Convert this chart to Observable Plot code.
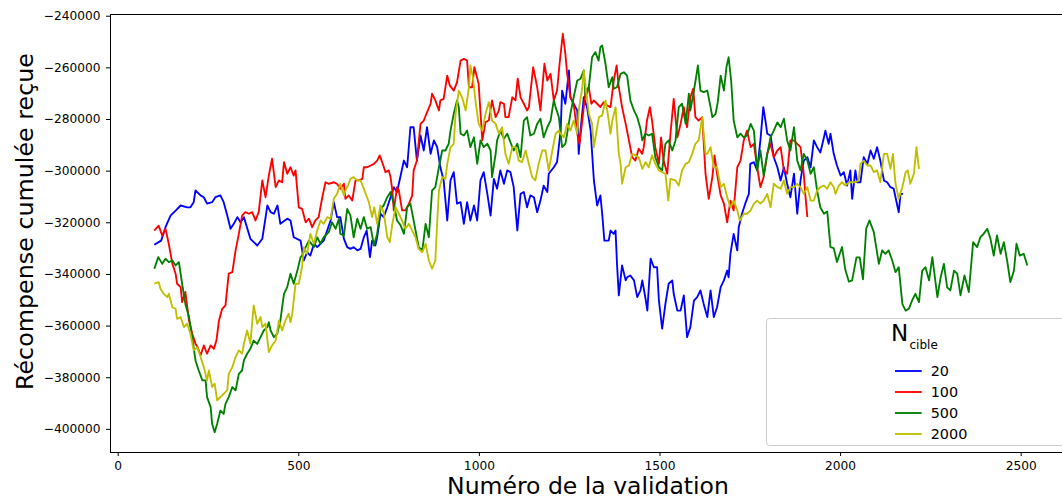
<!DOCTYPE html>
<html><head><meta charset="utf-8">
<script src="https://cdn.jsdelivr.net/npm/d3@7"></script>
<script src="https://cdn.jsdelivr.net/npm/@observablehq/plot@0.6"></script>
<style>
html,body{margin:0;padding:0;overflow:hidden;background:#fff;width:1062px;height:500px}
#chart{position:relative;width:1068px;height:500px}
#chart svg{max-width:none !important;width:1068px !important;height:500px !important}
</style>
</head><body><div id="chart"></div>
<script>
const xLabel = "Numéro de la validation";
const yLabel = "Récompense cumulée reçue";
const legendTitle = "N";
const legendSub = "cible";
const seriesLabels = ["20","100","500","2000"];
const seriesColors = ["#0000ff","#ff0000","#008000","#bfbf00"];
const xTicks = [0,500,1000,1500,2000,2500];
const yTicks = [-400000,-380000,-360000,-340000,-320000,-300000,-280000,-260000,-240000];

const blue = [[100,-328500],[119,-326900],[131,-321700],[145,-317200],[159,-315300],[173,-313300],[191,-314000],[200,-314000],[209,-312000],[214,-307500],[228,-309400],[237,-310100],[246,-312600],[260,-312000],[269,-310100],[283,-309400],[292,-312000],[302,-317200],[311,-322300],[320,-320400],[330,-317800],[339,-319900],[348,-317800],[366,-326200],[385,-328800],[399,-326200],[413,-313300],[422,-315900],[431,-316500],[441,-313300],[449,-320400],[468,-318400],[477,-319100],[486,-325600],[505,-326900],[514,-334600],[523,-331400],[532,-332700],[542,-328100],[551,-329400],[569,-326900],[588,-319100],[597,-312000],[606,-317800],[615,-317800],[625,-326200],[634,-329400],[643,-330100],[652,-329400],[662,-330700],[671,-330100],[680,-325600],[688,-323000],[697,-333300],[703,-326900],[712,-328800],[717,-325600],[726,-316500],[735,-317800],[745,-314000],[754,-310100],[763,-306200],[772,-308100],[782,-301700],[791,-295900],[800,-298500],[809,-283000],[818,-283000],[827,-295900],[837,-286200],[846,-292000],[855,-283000],[865,-293300],[874,-288100],[883,-290700],[892,-298500],[901,-303600],[911,-319100],[920,-303600],[929,-300400],[938,-312600],[948,-312000],[957,-320400],[966,-312000],[975,-319100],[985,-313300],[994,-319100],[1003,-303600],[1012,-300400],[1022,-308800],[1031,-317200],[1040,-303000],[1049,-306800],[1058,-299700],[1068,-304900],[1077,-299700],[1086,-300400],[1095,-306200],[1105,-323000],[1114,-308800],[1123,-308100],[1132,-314000],[1141,-309400],[1151,-310100],[1160,-315900],[1169,-311400],[1178,-305600],[1188,-308100],[1192,-301000],[1206,-298500],[1215,-296500],[1225,-284300],[1229,-268800],[1238,-273900],[1248,-261000],[1252,-271400],[1261,-273900],[1271,-276500],[1275,-293300],[1280,-284300],[1289,-271400],[1298,-275200],[1308,-284300],[1317,-303600],[1326,-313300],[1335,-309400],[1340,-316500],[1346,-326900],[1358,-326900],[1363,-323000],[1372,-324300],[1377,-323000],[1381,-335900],[1386,-348100],[1395,-336500],[1405,-342300],[1409,-341100],[1418,-340400],[1428,-342300],[1437,-348800],[1446,-346200],[1451,-342300],[1460,-349400],[1465,-354000],[1474,-333900],[1483,-337200],[1492,-337200],[1497,-350100],[1506,-361000],[1515,-351400],[1524,-343600],[1534,-342300],[1538,-347500],[1548,-354000],[1557,-354000],[1566,-348100],[1575,-364300],[1584,-360400],[1594,-350100],[1603,-348800],[1612,-346200],[1621,-351400],[1631,-356500],[1640,-346200],[1649,-356500],[1658,-352700],[1668,-344900],[1677,-342300],[1686,-338500],[1690,-341100],[1695,-332000],[1704,-324300],[1714,-330700],[1718,-321700],[1727,-316500],[1736,-312600],[1746,-308800],[1750,-297200],[1760,-296500],[1769,-299700],[1778,-288100],[1786,-275200],[1792,-280400],[1797,-285500],[1806,-286200],[1815,-294600],[1825,-298500],[1834,-303600],[1843,-298500],[1852,-304900],[1861,-310100],[1871,-301000],[1880,-316500],[1889,-303600],[1898,-295900],[1908,-294600],[1917,-298500],[1926,-288100],[1935,-290700],[1944,-292800],[1954,-286900],[1958,-284300],[1967,-289400],[1972,-285500],[1981,-293300],[1990,-297800],[2000,-301700],[2009,-300400],[2018,-305600],[2027,-299700],[2032,-310700],[2041,-299700],[2046,-304300],[2055,-304300],[2064,-294600],[2074,-297200],[2083,-292000],[2092,-295200],[2101,-290700],[2110,-295900],[2120,-303600],[2129,-304300],[2138,-306200],[2147,-306800],[2161,-315900],[2166,-308800],[2173,-308800]];

const red = [[100,-323000],[112,-321100],[122,-325000],[131,-322300],[140,-328100],[150,-335900],[159,-339700],[163,-343600],[173,-344900],[177,-350700],[186,-346800],[196,-357800],[205,-363000],[214,-366800],[220,-368200],[228,-371400],[237,-367500],[246,-370700],[256,-367500],[265,-368800],[272,-365600],[279,-357800],[288,-353300],[297,-352000],[306,-339700],[316,-339100],[325,-330700],[334,-324300],[343,-317200],[352,-315900],[362,-316500],[371,-315900],[380,-319100],[389,-315900],[399,-303600],[408,-310100],[417,-301700],[426,-295200],[436,-306200],[445,-303600],[454,-304300],[459,-296500],[468,-301000],[477,-298500],[486,-301700],[491,-299700],[500,-314000],[509,-314600],[519,-319800],[528,-318400],[537,-321700],[546,-319100],[555,-317800],[565,-310100],[574,-304300],[583,-304900],[597,-304300],[606,-304900],[615,-306800],[625,-304900],[629,-310700],[638,-309400],[648,-311400],[657,-303600],[666,-303600],[676,-303000],[680,-298500],[689,-298500],[699,-297800],[708,-297200],[717,-295900],[724,-293900],[734,-297800],[740,-300400],[749,-299700],[754,-302300],[759,-307500],[763,-315200],[772,-306200],[777,-307500],[786,-315200],[795,-315200],[805,-312600],[814,-309400],[818,-299700],[827,-295900],[837,-281700],[846,-280400],[855,-277200],[865,-273900],[869,-270000],[878,-272600],[888,-276500],[892,-272600],[901,-272000],[911,-263000],[918,-266800],[929,-268800],[938,-265600],[948,-257200],[957,-256500],[966,-257200],[971,-267500],[980,-267500],[986,-259700],[998,-266200],[1008,-288100],[1017,-281000],[1026,-280400],[1035,-272600],[1045,-279100],[1054,-276500],[1058,-273300],[1068,-273900],[1072,-279100],[1081,-279100],[1091,-271400],[1100,-272600],[1106,-264200],[1114,-271400],[1123,-273900],[1132,-276500],[1137,-275200],[1149,-259700],[1160,-267500],[1169,-276500],[1180,-258400],[1188,-264900],[1197,-262300],[1206,-272600],[1215,-268800],[1222,-258400],[1231,-246800],[1238,-254600],[1243,-262300],[1252,-271400],[1261,-273900],[1271,-285500],[1277,-289400],[1285,-280400],[1294,-268800],[1303,-267500],[1310,-273900],[1317,-272600],[1326,-273900],[1335,-275200],[1344,-273300],[1354,-274600],[1363,-275200],[1372,-264900],[1380,-259100],[1386,-267500],[1395,-275200],[1405,-281700],[1414,-288100],[1423,-294600],[1432,-295900],[1441,-291300],[1451,-293300],[1455,-290700],[1464,-280400],[1472,-275200],[1478,-280400],[1487,-290700],[1497,-297200],[1503,-286900],[1510,-295900],[1520,-301000],[1529,-285500],[1538,-272000],[1548,-286900],[1557,-281700],[1566,-275200],[1575,-283000],[1584,-271400],[1592,-268100],[1598,-279100],[1607,-280400],[1617,-279100],[1626,-301000],[1635,-310700],[1645,-302300],[1651,-293900],[1658,-301000],[1668,-309400],[1677,-312600],[1686,-319800],[1695,-311400],[1704,-315200],[1714,-298500],[1723,-295900],[1732,-288100],[1741,-284300],[1751,-290700],[1760,-289400],[1769,-298500],[1778,-306200],[1787,-302300],[1797,-293300],[1806,-289400],[1815,-294600],[1825,-292000],[1834,-290700],[1843,-299700],[1852,-301000],[1861,-288100],[1871,-288100],[1880,-289400],[1889,-290700],[1898,-301000],[1903,-310100],[1908,-317800]];

const green = [[100,-337800],[111,-333300],[122,-335900],[131,-333900],[140,-335200],[150,-334600],[159,-336500],[168,-335200],[177,-343600],[186,-351400],[196,-356500],[205,-364300],[214,-373300],[223,-377200],[233,-381000],[242,-381000],[246,-387500],[256,-391400],[260,-397800],[267,-401100],[274,-397800],[283,-392700],[292,-394000],[297,-390100],[306,-387500],[316,-383600],[325,-384900],[334,-378500],[343,-377200],[348,-373300],[357,-370700],[366,-368800],[375,-365600],[385,-366900],[394,-364300],[403,-361700],[413,-360400],[417,-358500],[422,-361700],[431,-364300],[440,-363000],[449,-357800],[459,-347500],[468,-344900],[477,-339700],[486,-343600],[496,-338500],[505,-333300],[509,-332700],[519,-329400],[528,-326900],[542,-329400],[551,-325600],[560,-328100],[569,-325600],[583,-323600],[592,-319800],[602,-322300],[611,-318400],[615,-324300],[625,-324900],[634,-314600],[643,-317200],[652,-325600],[662,-318400],[671,-322300],[680,-317800],[689,-322300],[699,-321700],[708,-328800],[717,-324300],[726,-314600],[735,-313300],[745,-310100],[754,-308100],[763,-312600],[772,-319100],[782,-321000],[791,-324300],[800,-314000],[809,-312600],[818,-319100],[832,-329400],[842,-330700],[851,-320400],[860,-325600],[869,-307500],[878,-306200],[888,-298500],[897,-292000],[906,-292000],[915,-289400],[920,-284300],[929,-277800],[938,-272600],[943,-275200],[948,-285500],[957,-286200],[966,-284300],[975,-290700],[985,-286900],[994,-297200],[1003,-288100],[1012,-290700],[1022,-289400],[1031,-292000],[1035,-302300],[1045,-293300],[1049,-288100],[1058,-284300],[1068,-287500],[1077,-285500],[1086,-288800],[1095,-292000],[1105,-289400],[1114,-294600],[1123,-280400],[1132,-279100],[1141,-286200],[1151,-285500],[1160,-281700],[1169,-279700],[1178,-286900],[1188,-283000],[1197,-280400],[1206,-272600],[1211,-275200],[1220,-279100],[1229,-290700],[1238,-289400],[1243,-285500],[1252,-277800],[1261,-271400],[1271,-264900],[1280,-264200],[1289,-261000],[1294,-271400],[1303,-267500],[1312,-255900],[1321,-253900],[1330,-257200],[1335,-252000],[1340,-251300],[1349,-258400],[1358,-267500],[1368,-263600],[1372,-268100],[1381,-267500],[1391,-262300],[1400,-261700],[1409,-263000],[1418,-272600],[1428,-276500],[1437,-279100],[1446,-283600],[1451,-288100],[1460,-285500],[1469,-286200],[1478,-285500],[1487,-294600],[1497,-298500],[1506,-299700],[1515,-289400],[1524,-288100],[1534,-292000],[1543,-288100],[1552,-275200],[1561,-273900],[1571,-281700],[1580,-270000],[1584,-276500],[1594,-268800],[1605,-259100],[1612,-268800],[1621,-269400],[1631,-268800],[1640,-275200],[1645,-279100],[1654,-277800],[1660,-273300],[1668,-263000],[1677,-268800],[1684,-259700],[1690,-255900],[1697,-264900],[1704,-280400],[1714,-286900],[1723,-285500],[1732,-286900],[1741,-286200],[1751,-281700],[1760,-284300],[1769,-299700],[1778,-292000],[1787,-301700],[1797,-293300],[1806,-286900],[1815,-284300],[1825,-281100],[1834,-283000],[1843,-279700],[1852,-288100],[1861,-292000],[1871,-283000],[1880,-295900],[1889,-299700],[1898,-293300],[1908,-295900],[1917,-301000],[1926,-298500],[1935,-307500],[1944,-314100],[1954,-316500],[1963,-315600],[1972,-329400],[1981,-329800],[1990,-335200],[2004,-329400],[2013,-338100],[2023,-342800],[2032,-342300],[2044,-333400],[2053,-333400],[2062,-341900],[2071,-322200],[2080,-319100],[2092,-323600],[2106,-335900],[2115,-330700],[2124,-332000],[2133,-330700],[2143,-334600],[2152,-339100],[2161,-337200],[2171,-351400],[2180,-354000],[2189,-353300],[2198,-350100],[2207,-347500],[2217,-350700],[2226,-338500],[2235,-337200],[2245,-342300],[2254,-333300],[2268,-348800],[2277,-341100],[2286,-335900],[2295,-345000],[2304,-346200],[2314,-338500],[2323,-339700],[2332,-348100],[2343,-340400],[2355,-346800],[2367,-327500],[2378,-329400],[2387,-325600],[2396,-324300],[2406,-322300],[2415,-326200],[2424,-332700],[2433,-324900],[2443,-332000],[2452,-327500],[2461,-334600],[2470,-343000],[2480,-338500],[2487,-328100],[2496,-332700],[2507,-332000],[2517,-336500]];

const yellow = [[100,-343600],[112,-343000],[117,-345500],[126,-347500],[136,-348800],[140,-347500],[150,-352700],[159,-353300],[163,-357200],[173,-356500],[182,-360400],[191,-359100],[200,-363000],[209,-369400],[219,-368200],[228,-372000],[237,-375900],[246,-381000],[251,-377200],[260,-383600],[267,-382300],[274,-388800],[283,-387500],[292,-386200],[302,-384900],[306,-378500],[316,-375900],[325,-372000],[334,-369400],[343,-370700],[348,-366800],[357,-361700],[366,-366800],[375,-352000],[385,-359100],[394,-356500],[399,-360400],[408,-359100],[417,-370100],[426,-367500],[436,-365600],[445,-357800],[454,-361700],[463,-357800],[472,-355200],[477,-358500],[482,-355200],[491,-343600],[500,-343600],[509,-337200],[514,-329400],[523,-332000],[532,-324300],[542,-328100],[551,-323000],[560,-319100],[569,-320400],[579,-317800],[588,-318400],[597,-310700],[606,-308800],[615,-304900],[625,-309400],[629,-307500],[638,-304900],[643,-303000],[652,-302300],[662,-303600],[671,-303600],[680,-306800],[689,-310100],[694,-312000],[703,-317800],[709,-314000],[717,-320400],[726,-313300],[735,-315900],[745,-325600],[752,-327500],[759,-320400],[768,-314000],[777,-316500],[786,-319100],[795,-322300],[805,-320400],[814,-323000],[823,-325600],[832,-330100],[842,-331400],[851,-328100],[860,-334600],[869,-337800],[878,-334600],[883,-320400],[888,-307500],[897,-302300],[906,-303000],[911,-297200],[920,-290700],[929,-289400],[934,-277800],[943,-268800],[952,-271400],[962,-276500],[971,-267500],[975,-259100],[982,-263600],[989,-272600],[998,-281700],[1008,-284300],[1017,-277800],[1026,-273300],[1035,-280400],[1045,-281700],[1054,-285500],[1063,-283000],[1072,-293300],[1081,-297200],[1091,-290700],[1100,-290700],[1109,-295900],[1118,-296500],[1128,-292000],[1137,-297200],[1146,-302300],[1155,-303600],[1164,-297200],[1174,-292000],[1183,-292000],[1192,-299700],[1202,-292000],[1211,-285500],[1220,-284300],[1225,-285500],[1234,-286900],[1243,-281700],[1252,-284300],[1261,-280400],[1271,-285500],[1275,-276500],[1285,-267500],[1289,-261000],[1294,-267500],[1303,-277700],[1312,-281700],[1317,-290700],[1326,-283000],[1331,-279100],[1340,-278400],[1349,-272600],[1354,-276500],[1363,-285500],[1368,-280400],[1377,-275200],[1381,-283000],[1386,-293300],[1391,-297200],[1395,-304900],[1405,-298500],[1414,-297800],[1423,-293300],[1432,-293900],[1441,-294600],[1451,-299100],[1460,-296500],[1469,-298500],[1478,-293900],[1487,-297200],[1497,-299700],[1506,-300400],[1515,-301000],[1523,-311400],[1529,-303000],[1543,-303600],[1552,-305600],[1561,-299700],[1571,-297200],[1580,-296500],[1589,-293300],[1598,-289400],[1607,-288100],[1617,-279100],[1621,-285500],[1626,-293300],[1631,-293300],[1640,-290700],[1649,-298500],[1658,-298500],[1668,-306200],[1677,-304900],[1686,-310100],[1695,-314000],[1704,-311400],[1714,-315200],[1721,-319100],[1732,-316500],[1741,-316500],[1751,-315200],[1760,-312600],[1769,-311400],[1778,-312600],[1787,-311400],[1797,-308800],[1806,-314000],[1815,-304900],[1825,-306200],[1834,-306800],[1843,-303600],[1852,-308800],[1861,-306200],[1871,-306200],[1880,-304900],[1889,-306200],[1898,-308800],[1908,-306200],[1917,-311400],[1926,-311400],[1935,-307500],[1944,-306200],[1954,-305600],[1963,-306800],[1972,-304300],[1981,-306200],[1986,-308800],[1995,-305600],[2004,-304300],[2013,-305600],[2023,-304300],[2032,-304300],[2041,-304300],[2050,-303600],[2055,-297200],[2064,-295900],[2074,-297800],[2083,-297800],[2092,-300400],[2101,-299700],[2110,-304300],[2120,-293300],[2129,-293300],[2138,-299100],[2145,-293300],[2152,-304900],[2161,-310700],[2171,-306200],[2180,-300400],[2186,-299700],[2193,-304900],[2203,-301000],[2210,-290700],[2217,-299100]];

const seriesData = [blue, red, green, yellow];
const rows = seriesData.flatMap((s, i) => s.map(([x, y]) => ({x, y, n: seriesLabels[i]})));

const svgEl = Plot.plot({
  width: 1068, height: 500,
  marginLeft: 110, marginRight: 0, marginTop: 14, marginBottom: 48,
  style: {fontFamily: "'DejaVu Sans'", fontSize: "12.2px", color: "black", background: "white", overflow: "hidden", maxWidth: "none", width: "1068px", height: "500px"},
  x: {domain: [-21.3, 2631]},
  y: {domain: [-408950, -239340]},
  color: {domain: seriesLabels, range: seriesColors},
  marks: [
    Plot.line(rows, {x: "x", y: "y", z: "n", stroke: "n", strokeWidth: 1.85, strokeLinejoin: "round", strokeLinecap: "butt"}),
    Plot.frame({stroke: "black", strokeWidth: 1}),
    Plot.axisX({ticks: xTicks, tickSize: 4, tickPadding: 5, tickFormat: d => String(d), label: null}),
    Plot.axisY({ticks: yTicks, tickSize: 4, tickPadding: 6, tickFormat: d => (d < 0 ? "\u2212" : "") + Math.abs(d), label: null})
  ]
});
document.getElementById("chart").appendChild(svgEl);

const svg = d3.select(svgEl);
svg.append("text")
  .attr("x", 588).attr("y", 494.4).attr("text-anchor", "middle")
  .attr("font-size", 23.5).attr("fill", "black").text(xLabel);
svg.append("text")
  .attr("transform", "translate(33,221.5) rotate(-90)").attr("text-anchor", "middle")
  .attr("font-size", 23.8).attr("fill", "black").text(yLabel);

const lg = svg.append("g").attr("text-anchor", "start");
lg.append("rect").attr("x", 766.5).attr("y", 318.5).attr("width", 298).attr("height", 127)
  .attr("rx", 3).attr("fill", "white").attr("fill-opacity", 0.8).attr("stroke", "#cccccc");
const t = lg.append("text").attr("fill", "black").attr("text-anchor", "start");
t.append("tspan").attr("x", 891).attr("y", 340.7).attr("font-size", 23).text(legendTitle);
t.append("tspan").attr("x", 909.5).attr("y", 349).attr("font-size", 12).text(legendSub);
seriesLabels.forEach((lab, i) => {
  const yy = 371 + 21 * i;
  lg.append("line").attr("x1", 895).attr("x2", 921.7).attr("y1", yy).attr("y2", yy)
    .attr("stroke", seriesColors[i]).attr("stroke-width", 1.85);
  lg.append("text").attr("x", 930.7).attr("y", yy + 5.2).attr("text-anchor", "start")
    .attr("font-size", 14.4).attr("fill", "black").text(lab);
});
</script>
</body></html>
